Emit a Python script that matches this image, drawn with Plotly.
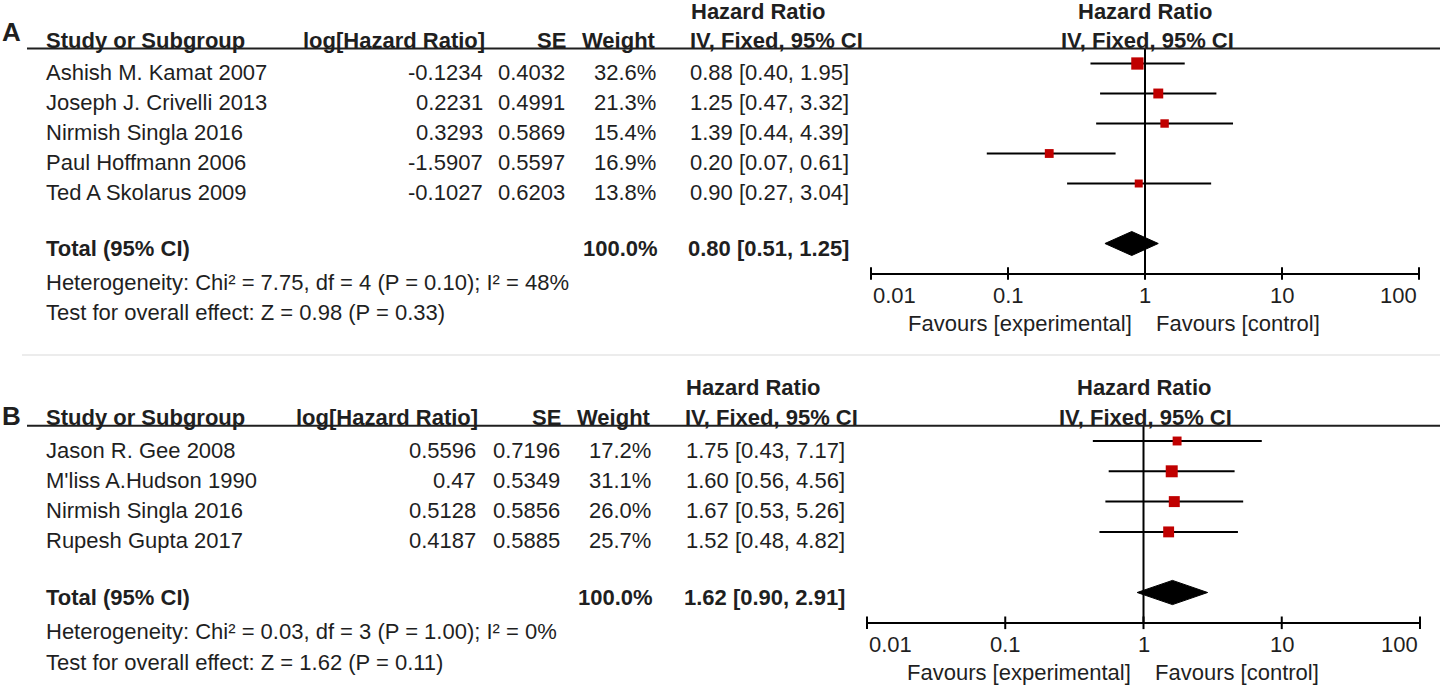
import math
import plotly.graph_objects as go

# Panel A data
studies_a = ["Ashish M. Kamat 2007", "Joseph J. Crivelli 2013", "Nirmish Singla 2016",
             "Paul Hoffmann 2006", "Ted A Skolarus 2009"]
loghr_a = [-0.1234, 0.2231, 0.3293, -1.5907, -0.1027]
se_a = [0.4032, 0.4991, 0.5869, 0.5597, 0.6203]
weight_a = [32.6, 21.3, 15.4, 16.9, 13.8]
hr_a = [0.88, 1.25, 1.39, 0.20, 0.90]
lo_a = [0.40, 0.47, 0.44, 0.07, 0.27]
hi_a = [1.95, 3.32, 4.39, 0.61, 3.04]
total_a = [0.80, 0.51, 1.25]
het_a = "Heterogeneity: Chi² = 7.75, df = 4 (P = 0.10); I² = 48%"
test_a = "Test for overall effect: Z = 0.98 (P = 0.33)"

# Panel B data
studies_b = ["Jason R. Gee 2008", "M'liss A.Hudson 1990", "Nirmish Singla 2016", "Rupesh Gupta 2017"]
loghr_b = [0.5596, 0.47, 0.5128, 0.4187]
se_b = [0.7196, 0.5349, 0.5856, 0.5885]
weight_b = [17.2, 31.1, 26.0, 25.7]
hr_b = [1.75, 1.60, 1.67, 1.52]
lo_b = [0.43, 0.56, 0.53, 0.48]
hi_b = [7.17, 4.56, 5.26, 4.82]
total_b = [1.62, 0.90, 2.91]
het_b = "Heterogeneity: Chi² = 0.03, df = 3 (P = 1.00); I² = 0%"
test_b = "Test for overall effect: Z = 1.62 (P = 0.11)"

tick_vals = [0.01, 0.1, 1, 10, 100]
tick_text = ["0.01", "0.1", "1", "10", "100"]

W, H = 1440, 688
FONT = "Liberation Sans, Arial, sans-serif"
TXT = "#1f1f1f"
RED = "#c00000"


def px(x):
    return x / W


def py(y):
    return 1 - y / H


fig = go.Figure()
annotations = []
shapes = []


def text(s, x, y, xref, yref, anchor="left", bold=False, yshift=0, xshift=0, size=22):
    annotations.append(dict(
        text=f"<b>{s}</b>" if bold else s, x=x, y=y, xref=xref, yref=yref,
        xanchor=anchor, yanchor="middle", yshift=yshift, xshift=xshift,
        showarrow=False, font=dict(family=FONT, size=size, color=TXT)))


def panel(k, label, label_y, studies, loghr, se, weight, hr, lo, hi, total, het, test,
          row0, step, dom, cols):
    xa = "x" if k == 1 else "x2"
    ya = "y" if k == 1 else "y2"
    n = len(studies)
    total_row = n + 1
    axis_row = n + 2
    x_log, x_se, x_w, x_ci, x_hdr = cols

    # y axis in row units, mapped onto the pixel rows of the image
    yax = dict(range=[(H - row0) / step, -row0 / step], domain=[0, 1], visible=False,
               fixedrange=True)
    axis_pos = py(row0 + step * axis_row)
    xax = dict(type="log", range=[-2, 2], domain=dom, anchor="free", position=axis_pos,
               showline=True, linewidth=2, linecolor="black", ticks="",
               showticklabels=False, showgrid=False, zeroline=False, fixedrange=True)

    # CI lines
    lx, ly = [], []
    for i in range(n):
        lx += [lo[i], hi[i], None]
        ly += [i, i, None]
    fig.add_trace(go.Scatter(x=lx, y=ly, mode="lines", line=dict(color="black", width=2),
                             xaxis=xa, yaxis=ya, cliponaxis=False, hoverinfo="skip",
                             showlegend=False))
    # vertical line of no effect
    fig.add_trace(go.Scatter(x=[1, 1], y=[-0.5, axis_row], mode="lines",
                             line=dict(color="black", width=2), xaxis=xa, yaxis=ya,
                             cliponaxis=False, hoverinfo="skip", showlegend=False))
    # study squares
    fig.add_trace(go.Scatter(x=hr, y=list(range(n)), mode="markers",
                             marker=dict(symbol="square", color=RED, opacity=1,
                                         size=[2.15 * math.sqrt(w) for w in weight],
                                         line=dict(width=0)),
                             xaxis=xa, yaxis=ya, cliponaxis=False, showlegend=False))
    # pooled diamond
    est, tlo, thi = total
    fig.add_trace(go.Scatter(x=[tlo, est, thi, est, tlo],
                             y=[total_row, total_row - 0.4, total_row, total_row + 0.4, total_row],
                             mode="lines", fill="toself", fillcolor="black",
                             line=dict(color="black", width=1), xaxis=xa, yaxis=ya,
                             cliponaxis=False, hoverinfo="skip", showlegend=False))
    # axis tick marks crossing the axis line
    fig.add_trace(go.Scatter(x=tick_vals, y=[axis_row] * len(tick_vals), mode="markers",
                             marker=dict(symbol="line-ns", size=9,
                                         line=dict(color="black", width=2)),
                             xaxis=xa, yaxis=ya, cliponaxis=False, hoverinfo="skip",
                             showlegend=False))

    # tick labels and favours labels
    for v, t in zip(tick_vals, tick_text):
        anc = "left" if v == tick_vals[0] else ("right" if v == tick_vals[-1] else "center")
        text(t, math.log10(v), axis_row, xa, ya, anchor=anc, yshift=-22)
    text("Favours [experimental]", 0, axis_row, xa, ya, anchor="right", yshift=-50, xshift=-11)
    text("Favours [control]", 0, axis_row, xa, ya, anchor="left", yshift=-50, xshift=9)

    # headers
    shapes.append(dict(type="line", xref="paper", yref=ya, x0=px(27), x1=1, y0=-0.5, y1=-0.5,
                       line=dict(color="#1f1f1f", width=2)))
    text(label, px(0), py(label_y), "paper", "paper", bold=True, size=26)
    text("Study or Subgroup", px(44), -1, "paper", ya, bold=True, yshift=-6.5)
    text("log[Hazard Ratio]", px(x_log + 2), -1, "paper", ya, anchor="right", bold=True, yshift=-6.5)
    text("SE", px(x_se + 1), -1, "paper", ya, anchor="right", bold=True, yshift=-6.5)
    text("Weight", px(x_w), -1, "paper", ya, anchor="right", bold=True, yshift=-6.5)
    text("Hazard Ratio", px(x_hdr + 1), -2, "paper", ya, bold=True, yshift=-7.5)
    text("IV, Fixed, 95% CI", px(x_hdr), -1, "paper", ya, bold=True, yshift=-6.5)
    text("Hazard Ratio", 0, -2, xa, ya, anchor="center", bold=True, yshift=-7.5)
    text("IV, Fixed, 95% CI", 0, -1, xa, ya, anchor="center", bold=True, yshift=-6.5, xshift=2)

    # table rows
    for i in range(n):
        text(studies[i], px(44), i, "paper", ya, yshift=-9)
        text(str(loghr[i]), px(x_log), i, "paper", ya, anchor="right", yshift=-9)
        text(f"{se[i]:.4f}", px(x_se), i, "paper", ya, anchor="right", yshift=-9)
        text(f"{weight[i]:.1f}%", px(x_w), i, "paper", ya, anchor="right", yshift=-9)
        text(f"{hr[i]:.2f} [{lo[i]:.2f}, {hi[i]:.2f}]", px(x_ci), i, "paper", ya,
             anchor="right", yshift=-9)
    text("Total (95% CI)", px(44), total_row, "paper", ya, bold=True, yshift=-5)
    text(f"{sum(weight):.1f}%", px(x_w + 2), total_row, "paper", ya, anchor="right",
         bold=True, yshift=-5)
    text(f"{est:.2f} [{tlo:.2f}, {thi:.2f}]", px(x_ci), total_row, "paper", ya,
         anchor="right", bold=True, yshift=-5)
    text(het, px(44), axis_row, "paper", ya, yshift=-9)
    text(test, px(44), axis_row + 1, "paper", ya, yshift=-9)
    return xax, yax


xa1, ya1 = panel(1, "A", 32, studies_a, loghr_a, se_a, weight_a, hr_a, lo_a, hi_a, total_a,
                 het_a, test_a, 63.5, 30.0, [px(871), px(1419)], (485, 567, 658, 851, 688))
xa2, ya2 = panel(2, "B", 416, studies_b, loghr_b, se_b, weight_b, hr_b, lo_b, hi_b, total_b,
                 het_b, test_b, 441.0, 30.3, [px(867), px(1420)], (478, 562, 653, 847, 683))

# faint separator between the two panels
shapes.append(dict(type="line", xref="paper", yref="paper", x0=px(22), x1=1,
                   y0=py(355), y1=py(355), line=dict(color="#ececec", width=2)))

fig.update_layout(
    width=W, height=H,
    margin=dict(l=0, r=0, t=0, b=0),
    paper_bgcolor="white", plot_bgcolor="rgba(0,0,0,0)",
    xaxis=xa1, yaxis=ya1, xaxis2=xa2, yaxis2=ya2,
    annotations=annotations, shapes=shapes,
    showlegend=False,
    font=dict(family=FONT, color=TXT),
)

# drop the default page margin so the 1440x688 figure fills the window exactly
fig.write_html("out.html", config={"displayModeBar": False},
               post_script="document.body.style.margin='0';")
